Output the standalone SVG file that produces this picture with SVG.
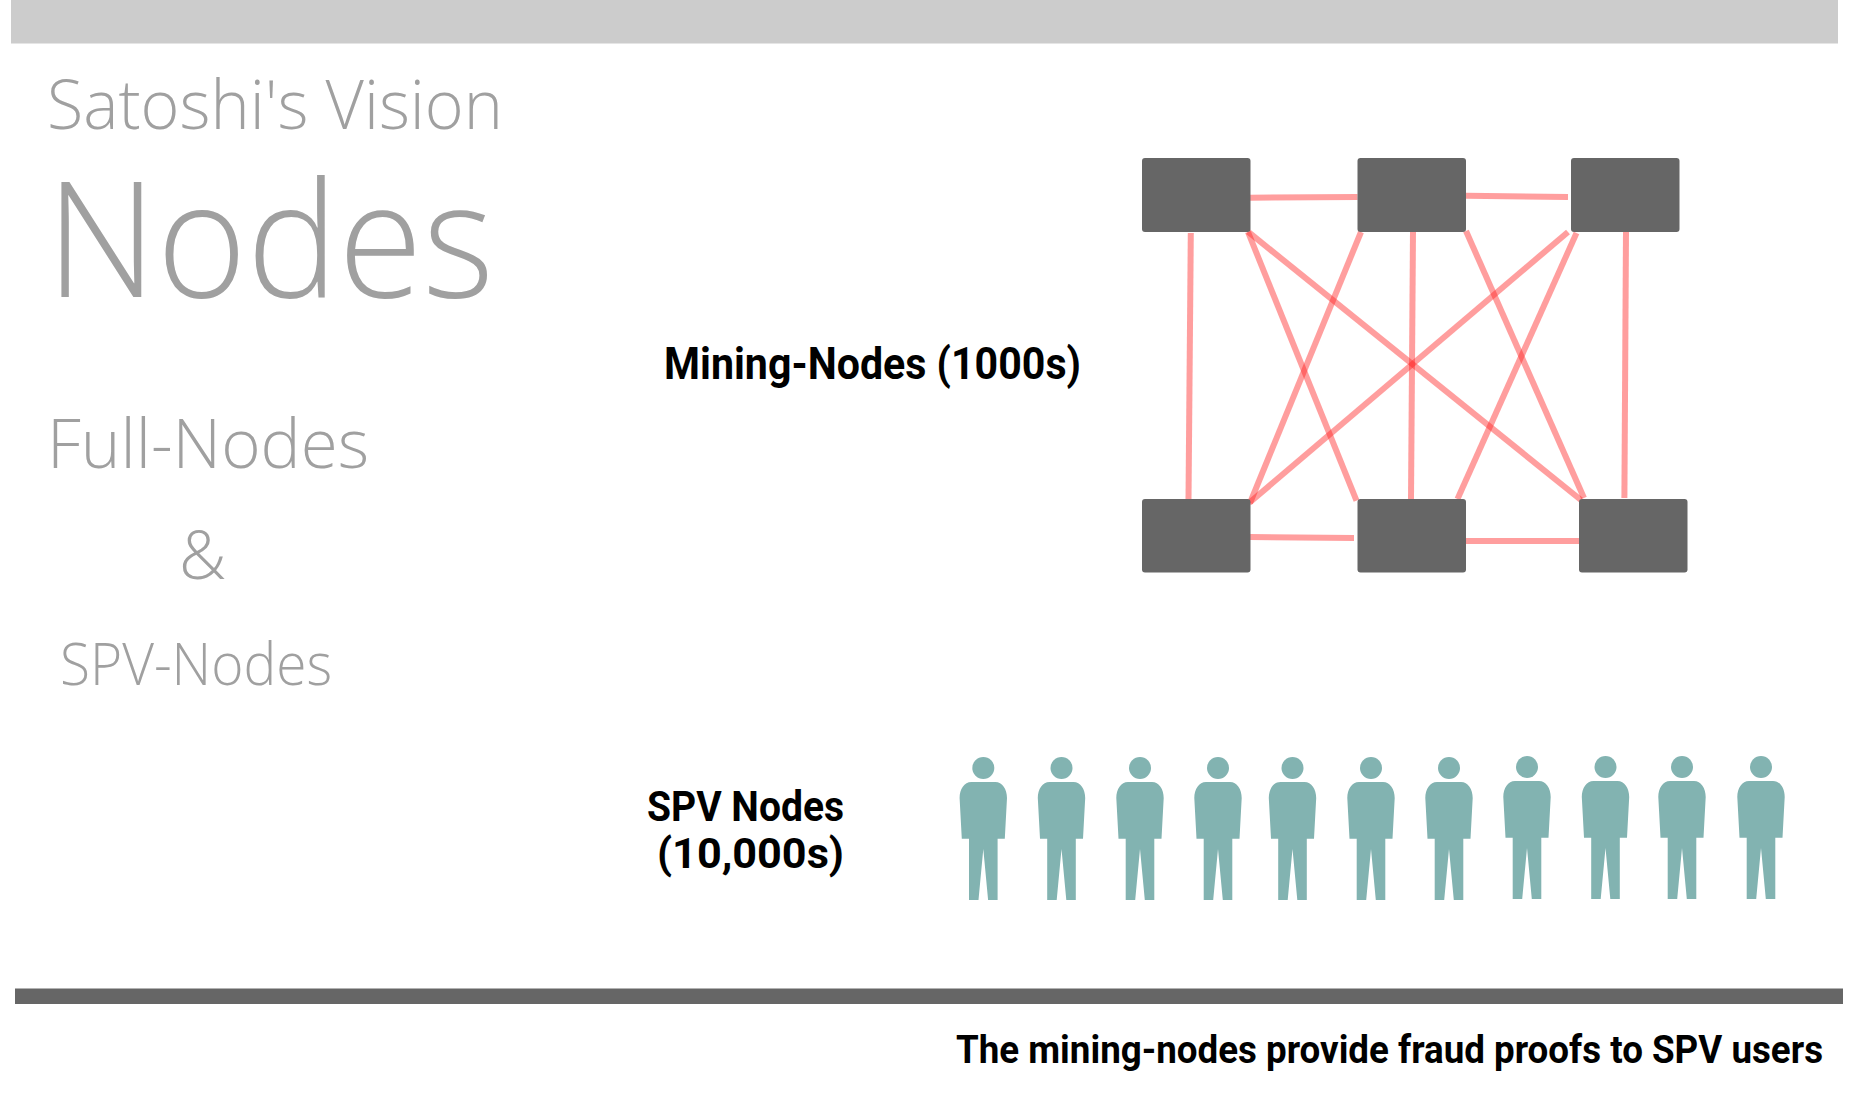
<svg xmlns="http://www.w3.org/2000/svg" width="1864" height="1116" viewBox="0 0 1864 1116">
<style>
.t{font-family:"Open Sans","Noto Sans",sans-serif;font-weight:300;fill:#a0a0a0}
.b{font-family:"Roboto","Liberation Sans",sans-serif;font-weight:700;fill:#000}
.n{fill:#666}
.c{stroke:#f22;stroke-opacity:.44;stroke-width:6;fill:none}
.p{fill:#82b3b1}
</style>
<defs>
<g id="person"><circle cx="0" cy="768" r="11"/><path d="M-12 782H12C19 782 23.700 789 23.700 798L21.500 838.700H14.300V900H4.800L0 849L-4.800 900H-14.300V838.700H-21.500L-23.700 798C-23.700 789 -19 782 -12 782Z"/></g>
</defs>
<rect width="1864" height="1116" fill="#fff"/>
<rect x="11" y="0" width="1827" height="43.500" fill="#ccc"/>
<rect x="15" y="988.500" width="1828" height="15.500" fill="#666"/>
<text class="t" x="47" y="129" font-size="68" textLength="456" lengthAdjust="spacingAndGlyphs">Satoshi's Vision</text>
<text class="t" x="46" y="297" font-size="160" textLength="448" lengthAdjust="spacingAndGlyphs">Nodes</text>
<text class="t" x="47" y="468" font-size="68" textLength="322" lengthAdjust="spacingAndGlyphs">Full-Nodes</text>
<text class="t" x="179" y="579" font-size="66">&amp;</text>
<text class="t" x="60" y="685" font-size="58" textLength="272" lengthAdjust="spacingAndGlyphs">SPV-Nodes</text>
<text class="b" x="664" y="379" font-size="44" textLength="417" lengthAdjust="spacingAndGlyphs">Mining-Nodes (1000s)</text>
<text class="b" x="647" y="821" font-size="43" textLength="197" lengthAdjust="spacingAndGlyphs">SPV Nodes</text>
<text class="b" x="657" y="868" font-size="43" textLength="187" lengthAdjust="spacingAndGlyphs">(10,000s)</text>
<text class="b" x="956" y="1063" font-size="38" textLength="867" lengthAdjust="spacingAndGlyphs">The mining-nodes provide fraud proofs to SPV users</text>
<g id="connectors" class="c">
<path d="M1250 197.700L1357.600 197"/>
<path d="M1466 195.700L1568 197"/>
<path d="M1190.800 233L1188.500 500"/>
<path d="M1248 231.700L1581 500"/>
<path d="M1248 232L1356.500 500.700"/>
<path d="M1361 232L1250 503"/>
<path d="M1413 231L1411 499"/>
<path d="M1466 231L1584 498"/>
<path d="M1568 232L1249 503"/>
<path d="M1576.500 233L1457.500 499"/>
<path d="M1626 231L1624.400 498"/>
<path d="M1250 537L1354 538"/>
<path d="M1463 541L1579 541"/>
</g>
<g id="node-m1"><rect class="n" x="1142" y="158" width="108.500" height="74" rx="3"/></g>
<g id="node-m2"><rect class="n" x="1357.500" y="158" width="108.500" height="74" rx="3"/></g>
<g id="node-m3"><rect class="n" x="1571" y="158" width="108.500" height="74" rx="3"/></g>
<g id="node-m4"><rect class="n" x="1142" y="499" width="108.500" height="73.500" rx="3"/></g>
<g id="node-m5"><rect class="n" x="1357.500" y="499" width="108.500" height="73.500" rx="3"/></g>
<g id="node-m6"><rect class="n" x="1579" y="499" width="108.500" height="73.500" rx="3"/></g>
<g id="spv-users" class="p">
<use href="#person" x="983.300"/>
<use href="#person" x="1061.500"/>
<use href="#person" x="1140"/>
<use href="#person" x="1218"/>
<use href="#person" x="1292.500"/>
<use href="#person" x="1371"/>
<use href="#person" x="1449"/>
<use href="#person" x="1527" y="-1"/>
<use href="#person" x="1605.500" y="-1"/>
<use href="#person" x="1682" y="-1"/>
<use href="#person" x="1761" y="-1"/>
</g>
</svg>
